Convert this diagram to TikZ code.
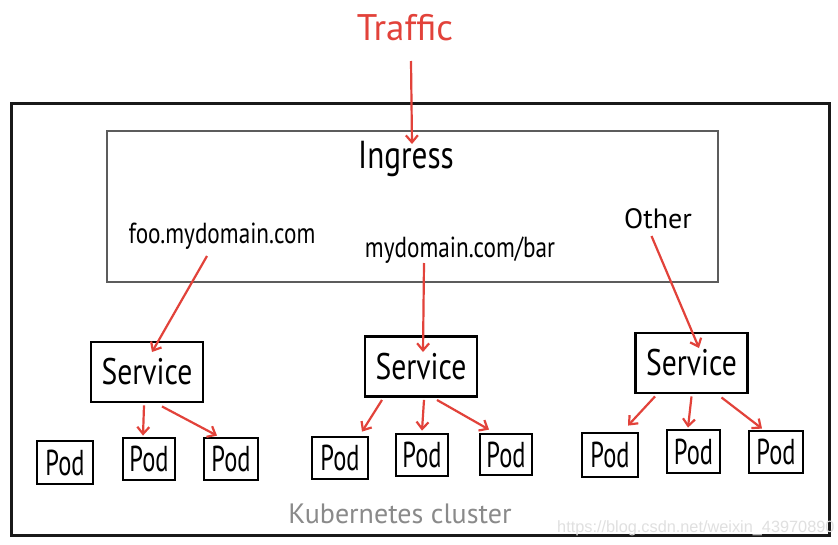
\documentclass[tikz,border=0pt]{standalone}
\usepackage{fontspec}
\setmainfont{PT Sans}
\newfontfamily\handP[FakeStretch=0.68]{PT Sans}
\newfontfamily\handS[FakeStretch=0.8]{PT Sans}
\newfontfamily\handW{PT Sans}
\newfontfamily\wmfont{Liberation Sans}
\usetikzlibrary{arrows.meta,calc}
\definecolor{redc}{HTML}{E2423A}
\definecolor{kgray}{HTML}{8A8A8A}
\definecolor{igray}{HTML}{5C5C5C}
\definecolor{wmgray}{HTML}{E0E0E0}
\begin{document}
\begin{tikzpicture}[x=1pt,y=-1pt,
  lbl/.style={inner sep=0pt, anchor=base},
  trafficlbl/.style={lbl, text=redc, font=\handW\fontsize{37}{39}\selectfont},
  ingresslbl/.style={lbl, font=\handS\fontsize{39}{41}\selectfont},
  routelbl/.style={lbl, font=\handS\fontsize{29}{31}\selectfont},
  otherlbl/.style={lbl, font=\handW\fontsize{28}{30}\selectfont},
  clusterlbl/.style={lbl, text=kgray, font=\handW\fontsize{28}{30}\selectfont},
  wmlbl/.style={inner sep=0pt, anchor=base west, text=wmgray, font=\wmfont\fontsize{16.3}{18}\selectfont},
  svcbox/.style={draw=black, line width=2.9pt, minimum width=112pt, minimum height=60pt, inner sep=0pt, font=\handS\fontsize{37}{39}\selectfont},
  podbox/.style={draw=black, line width=2.8pt, minimum width=54pt, minimum height=43pt, inner sep=0pt, font=\handP\fontsize{36}{38}\selectfont},
  arr/.style={draw=redc, line width=2.2pt, -{Straight Barb[length=7pt,width=12pt]}}
]
\useasboundingbox (0,0) rectangle (838,544);
\fill[white] (0,0) rectangle (838,544);

% cluster and ingress boxes
\node[draw=black!90, line width=3pt, minimum width=818pt, minimum height=432pt, inner sep=0pt] (cluster) at (420,319) {};
\node[draw=igray, line width=1.8pt, minimum width=611pt, minimum height=151pt, inner sep=0pt] (ingress) at (412.5,206.5) {};

% labels
\node[trafficlbl] (traffic) at (405,40) {Traffic};
\node[ingresslbl] (ilabel) at (406,168) {Ingress};
\node[routelbl] (foo) at (222,243) {foo.mydomain.com};
\node[routelbl] (bar) at (460,257) {mydomain.com/bar};
\node[otherlbl] (other) at (658,228) {Other};
\node[clusterlbl] (klabel) at (400,523) {Kubernetes cluster};
\node[wmlbl] (wm) at (557,532) {https://blog.csdn.net/weixin\_43970890};

% services
\node[svcbox] (svc1) at (147,372) {Service};
\node[svcbox] (svc2) at (421,366.5) {Service};
\node[svcbox] (svc3) at (691.5,363) {Service};

% pods
\node[podbox, minimum width=56pt] (p11) at (65,462.5) {Pod};
\node[podbox, minimum width=52pt, minimum height=42pt] (p12) at (149,459) {Pod};
\node[podbox, minimum height=42pt] (p13) at (231,459) {Pod};
\node[podbox, minimum width=56pt, minimum height=42pt] (p21) at (340,458) {Pod};
\node[podbox, minimum width=52pt, minimum height=42pt] (p22) at (422,455) {Pod};
\node[podbox, minimum width=52pt, minimum height=41pt] (p23) at (506,454.5) {Pod};
\node[podbox, minimum width=56pt, minimum height=44pt] (p31) at (610,455) {Pod};
\node[podbox, minimum width=53pt, minimum height=43pt] (p32) at (693.5,451.5) {Pod};
\node[podbox, minimum width=54pt, minimum height=42pt] (p33) at (776,452) {Pod};

% traffic arrows
\draw[arr] ($(traffic.base)+(6,21)$) -- ($(ilabel.base)+(6,-24)$);
\draw[arr] ($(foo.base)+(-15,13)$) -- ($(svc1.center)+(5,-20)$);
\draw[arr] ($(bar.base)+(-36,6)$) -- ($(svc2.center)+(2,-14.5)$);
\draw[arr] ($(other.base)+(-6.5,8)$) -- ($(svc3.center)+(7.5,-15)$);

% service to pod arrows
\draw[arr] ($(svc1.south)+(-3,2)$) -- ($(p12.north)+(-6,-1)$);
\draw[arr] ($(svc1.south)+(15,3)$) -- ($(p13.north)+(-14,-1)$);

\draw[arr] ($(svc2.south)+(-39,2)$) -- ($(p21.north)+(22,-4)$);
\draw[arr] ($(svc2.south)+(3,2)$) -- ($(p22.north)+(0,-2)$);
\draw[arr] ($(svc2.south)+(16,2)$) -- ($(p23.north)+(-17,-3)$);

\draw[arr] ($(svc3.south)+(-36.5,2)$) -- ($(p31.north)+(18,-6)$);
\draw[arr] ($(svc3.south)+(0,2)$) -- ($(p32.north)+(-5.5,-1)$);
\draw[arr] ($(svc3.south)+(30,3)$) -- ($(p33.north)+(-14,-1)$);
\end{tikzpicture}
\end{document}
